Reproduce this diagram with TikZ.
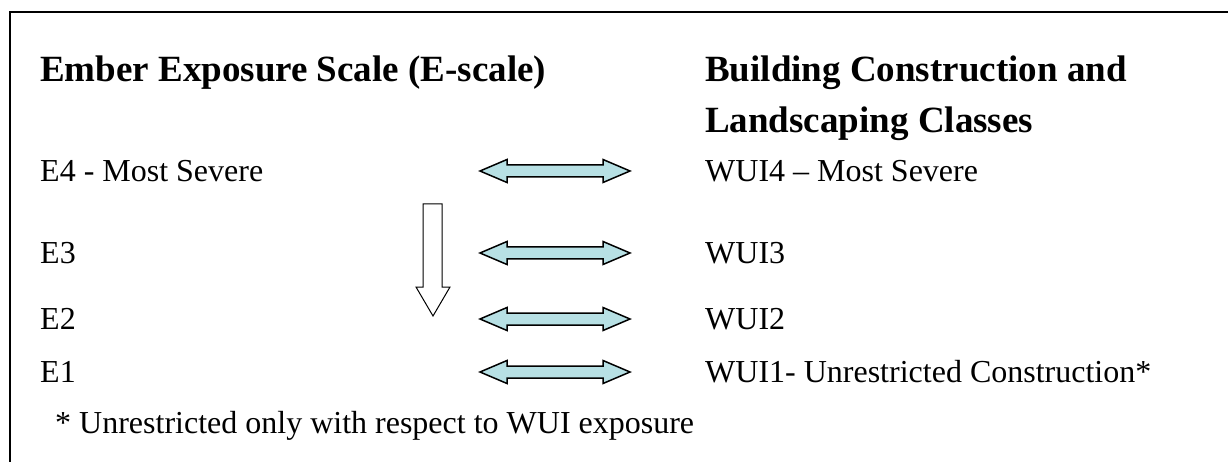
\documentclass[tikz,border=0pt]{standalone}
\usepackage{fontspec}
\setmainfont{Liberation Serif}
\definecolor{arrowfill}{RGB}{183,224,228}
\tikzset{
  lbl/.style={anchor=base west, inner sep=0pt, font=\fontsize{32}{36}\selectfont},
  hdr/.style={anchor=base west, inner sep=0pt, font=\fontsize{37}{42}\selectfont\bfseries},
  dblarrow/.pic={\draw[line width=1.5pt, fill=arrowfill, line join=miter]
     (-75,0) -- (-48,-11.5) -- (-48,-6) -- (48,-6) -- (48,-11.5) -- (75,0)
     -- (48,11.5) -- (48,6) -- (-48,6) -- (-48,11.5) -- cycle;}
}
\begin{document}
\begin{tikzpicture}[x=1pt,y=-1pt]
\useasboundingbox (0,0) rectangle (1228,462);
\draw[line width=1.7pt] (10,462) -- (10,12) -- (1228,12);
\node[hdr] (h1) at (40,82) {Ember Exposure Scale (E-scale)};
\node[hdr] (h2) at (705,82) {Building Construction and};
\node[hdr] (h3) at (705,133) {Landscaping Classes};
\node[lbl] (e4) at (40,181.5) {E4 - Most Severe};
\node[lbl] (e3) at (40,263.5) {E3};
\node[lbl] (e2) at (40,329.5) {E2};
\node[lbl] (e1) at (40,382.5) {E1};
\node[lbl] (w4) at (705,181.5) {WUI4 – Most Severe};
\node[lbl] (w3) at (705,263.5) {WUI3};
\node[lbl] (w2) at (705,329.5) {WUI2};
\node[lbl] (w1) at (705,382.5) {WUI1- Unrestricted Construction*};
\node[lbl] (fn) at (55,433) {* Unrestricted only with respect to WUI exposure};
\pic at (555,171) {dblarrow};
\pic at (555,253) {dblarrow};
\pic at (555,319) {dblarrow};
\pic at (555,372) {dblarrow};
\draw[line width=1pt, fill=white, line join=miter]
  (423,204) -- (442,204) -- (442,287) -- (450,287) -- (433,316)
  -- (416,287) -- (423,287) -- cycle;
\end{tikzpicture}
\end{document}
